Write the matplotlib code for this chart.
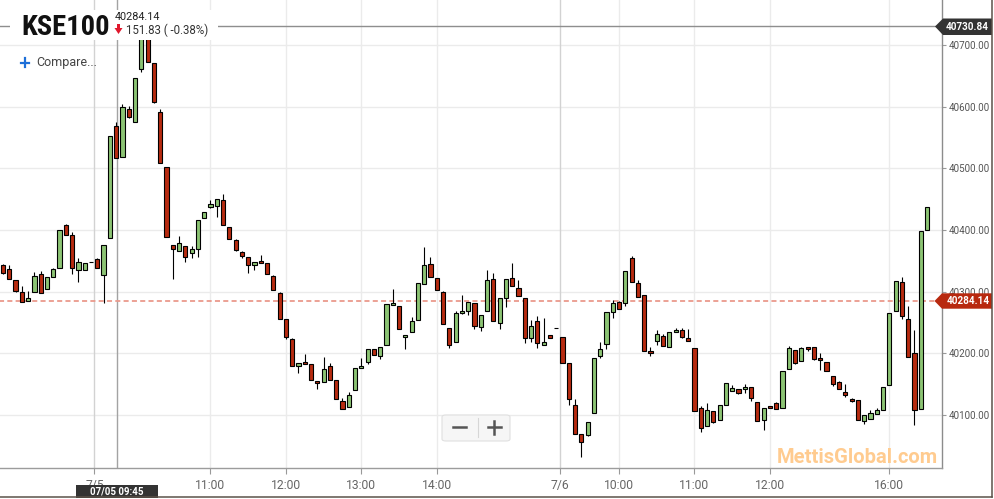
import numpy as np
import pandas as pd
import matplotlib
matplotlib.use("Agg")
import matplotlib.pyplot as plt
from matplotlib import font_manager as fm
from matplotlib.patches import Rectangle, Polygon, FancyBboxPatch
from matplotlib.lines import Line2D

# ------------------------------------------------------------------ data
title = "KSE100"
last_price = 40284.14
change_abs = 151.83
change_pct = -0.38
cursor_price = 40730.84
cursor_time = "2018-07-05 09:45"
watermark = "MettisGlobal.com"

# trading sessions (start, number of 5-minute bars)
sessions = [("2018-07-04 14:20", 15), ("2018-07-05 09:30", 74),
            ("2018-07-06 09:15", 34), ("2018-07-06 14:30", 25)]

opens = [40342.8, 40336.3, 40318.5, 40299.0, 40284.4, 40299.0, 40329.2, 40303.9, 40323.3, 40337.9,
         40407.7, 40391.4, 40334.7, 40334.7, 40348.1, 40352.5, 40326.6, 40386.6, 40568.7, 40517.9,
         40595.8, 40574.7, 40660.6, 40712.0, 40670.4, 40590.9, 40502.7, 40376.2, 40365.5, 40374.6,
         40362.3, 40368.7, 40419.0, 40436.8, 40438.5, 40448.2, 40405.4, 40383.3, 40363.9, 40355.8,
         40342.8, 40349.8, 40346.0, 40325.0, 40297.9, 40255.2, 40222.8, 40179.0, 40186.0, 40182.3,
         40155.2, 40153.1, 40179.0, 40156.3, 40122.3, 40112.5, 40140.1, 40175.8, 40185.5, 40206.6,
         40195.2, 40213.1, 40277.9, 40276.3, 40226.0, 40234.1, 40253.6, 40312.0, 40344.4, 40321.7,
         40299.0, 40240.6, 40217.9, 40264.9, 40268.2, 40281.2, 40242.3, 40268.2, 40320.1, 40248.7,
         40289.3, 40321.7, 40305.5, 40289.3, 40224.4, 40252.0, 40213.1, 40229.3, 40240.6, 40226.0,
         40183.9, 40115.8, 40068.7, 40067.1, 40102.8, 40195.2, 40214.7, 40266.6, 40282.8, 40281.2,
         40354.1, 40313.6, 40294.1, 40203.3, 40219.6, 40227.7, 40209.8, 40234.1, 40237.4, 40224.4,
         40208.2, 40110.9, 40081.7, 40106.0, 40091.5, 40115.8, 40138.5, 40141.7, 40141.7, 40144.9,
         40120.6, 40091.5, 40114.1, 40119.0, 40110.9, 40174.1, 40205.0, 40187.1, 40209.8, 40209.8,
         40192.0, 40185.5, 40162.8, 40153.1, 40136.8, 40125.5, 40123.9, 40089.8, 40093.1, 40101.2,
         40107.7, 40148.2, 40268.2, 40315.2, 40255.2, 40200.1, 40109.3, 40399.5]
highs = [40344.9, 40343.3, 40318.5, 40309.2, 40301.1, 40331.9, 40333.5, 40323.3, 40337.9, 40399.5,
         40409.8, 40396.3, 40354.1, 40346.0, 40348.1, 40354.1, 40375.2, 40552.0, 40575.7, 40604.4,
         40601.1, 40646.0, 40722.0, 40718.0, 40670.4, 40595.8, 40502.7, 40376.2, 40389.8, 40374.6,
         40373.6, 40415.8, 40429.7, 40448.7, 40449.8, 40458.4, 40405.4, 40385.0, 40366.5, 40355.8,
         40347.7, 40359.5, 40346.0, 40326.6, 40299.5, 40255.2, 40224.4, 40184.4, 40199.4, 40182.3,
         40155.2, 40194.1, 40184.4, 40156.3, 40127.1, 40136.8, 40175.8, 40192.0, 40206.6, 40206.6,
         40209.8, 40279.5, 40303.9, 40276.3, 40229.3, 40258.5, 40313.6, 40372.5, 40355.8, 40321.7,
         40300.6, 40240.6, 40268.2, 40294.1, 40282.8, 40281.2, 40261.7, 40334.7, 40329.8, 40289.3,
         40320.1, 40346.0, 40318.5, 40289.3, 40253.6, 40260.1, 40256.8, 40229.3, 40240.6, 40226.0,
         40183.9, 40125.5, 40068.7, 40088.2, 40192.0, 40217.9, 40266.6, 40286.0, 40284.4, 40333.1,
         40357.4, 40318.5, 40294.1, 40209.8, 40237.4, 40230.9, 40234.1, 40240.6, 40240.6, 40239.0,
         40208.2, 40114.1, 40119.0, 40106.0, 40115.8, 40151.4, 40148.2, 40141.7, 40149.8, 40144.9,
         40120.6, 40110.9, 40114.1, 40120.6, 40170.9, 40211.4, 40205.0, 40209.8, 40209.8, 40209.8,
         40200.1, 40185.5, 40162.8, 40154.7, 40149.8, 40127.1, 40123.9, 40099.5, 40107.7, 40110.9,
         40144.9, 40264.9, 40316.8, 40323.3, 40276.3, 40237.4, 40397.9, 40436.8]
lows = [40328.7, 40320.1, 40299.0, 40282.8, 40284.4, 40299.0, 40297.4, 40303.9, 40323.3, 40337.9,
        40391.4, 40328.2, 40315.2, 40334.7, 40348.1, 40337.9, 40282.1, 40386.6, 40516.3, 40517.9,
        40582.1, 40574.7, 40655.8, 40672.0, 40605.5, 40508.2, 40388.2, 40320.1, 40365.5, 40348.6,
        40355.1, 40356.7, 40419.0, 40435.2, 40421.6, 40407.7, 40385.0, 40366.0, 40354.6, 40330.8,
        40335.2, 40346.0, 40328.2, 40302.3, 40255.2, 40223.8, 40179.0, 40168.6, 40182.3, 40156.3,
        40142.7, 40153.1, 40156.3, 40125.5, 40109.3, 40112.5, 40140.1, 40175.8, 40182.3, 40196.8,
        40190.4, 40213.1, 40277.9, 40239.0, 40206.6, 40234.1, 40253.6, 40312.0, 40323.3, 40302.3,
        40247.1, 40208.2, 40217.9, 40263.3, 40261.7, 40239.0, 40235.8, 40268.2, 40252.0, 40239.0,
        40274.7, 40308.7, 40292.5, 40216.3, 40217.9, 40208.2, 40213.1, 40224.4, 40240.6, 40183.9,
        40115.8, 40068.7, 40032.4, 40065.5, 40102.8, 40192.0, 40206.6, 40256.8, 40271.4, 40276.3,
        40315.2, 40290.9, 40203.3, 40195.2, 40213.1, 40211.4, 40209.8, 40234.1, 40224.4, 40219.6,
        40106.0, 40072.0, 40081.7, 40086.6, 40091.5, 40115.8, 40138.5, 40133.6, 40135.2, 40122.3,
        40089.8, 40075.2, 40110.9, 40109.3, 40110.9, 40174.1, 40182.3, 40187.1, 40203.3, 40188.8,
        40172.5, 40170.9, 40146.6, 40141.7, 40129.7, 40120.6, 40091.5, 40085.0, 40093.1, 40101.2,
        40107.7, 40148.2, 40268.2, 40255.2, 40193.6, 40083.3, 40109.3, 40399.5]
closes = [40330.8, 40320.1, 40301.1, 40282.8, 40289.3, 40325.9, 40297.4, 40323.3, 40336.3, 40399.5,
          40391.4, 40337.9, 40347.7, 40346.0, 40348.1, 40337.9, 40375.2, 40552.0, 40516.3, 40599.0,
          40583.8, 40646.0, 40715.0, 40672.0, 40608.1, 40508.2, 40388.2, 40368.7, 40378.5, 40355.8,
          40368.7, 40415.8, 40429.7, 40441.7, 40449.8, 40407.7, 40385.0, 40368.1, 40357.9, 40342.8,
          40347.7, 40346.0, 40328.2, 40302.3, 40255.2, 40226.0, 40179.0, 40184.4, 40182.3, 40156.3,
          40151.4, 40174.1, 40156.3, 40125.5, 40109.3, 40132.0, 40175.8, 40179.0, 40206.6, 40196.8,
          40209.8, 40279.5, 40281.2, 40239.0, 40229.3, 40252.0, 40313.6, 40342.8, 40323.3, 40302.3,
          40247.1, 40213.1, 40264.9, 40268.2, 40282.8, 40243.9, 40261.7, 40318.5, 40252.0, 40289.3,
          40320.1, 40308.7, 40292.5, 40224.4, 40243.9, 40216.3, 40217.9, 40224.4, 40240.6, 40183.9,
          40125.5, 40068.7, 40055.8, 40088.2, 40192.0, 40206.6, 40266.6, 40281.2, 40271.4, 40333.1,
          40315.2, 40290.9, 40203.3, 40200.1, 40230.9, 40211.4, 40234.1, 40237.4, 40226.0, 40219.6,
          40106.0, 40078.5, 40107.7, 40088.2, 40115.8, 40151.4, 40143.3, 40135.2, 40144.9, 40127.1,
          40089.8, 40110.9, 40110.9, 40109.3, 40170.9, 40208.2, 40183.9, 40208.2, 40206.6, 40190.4,
          40188.8, 40170.9, 40149.8, 40141.7, 40132.0, 40122.3, 40091.5, 40099.5, 40102.8, 40107.7,
          40144.9, 40264.9, 40316.8, 40260.1, 40193.6, 40107.7, 40397.9, 40436.8]
y_ticks = [40100, 40200, 40300, 40400, 40500, 40600, 40700]

# ------------------------------------------------------------------ helpers
names = {f.name for f in fm.fontManager.ttflist}
NARROW = next((n for n in ["Liberation Sans Narrow", "Roboto Condensed", "Arial Narrow"] if n in names), "Roboto")
plt.rcParams["font.family"] = ["Roboto", "DejaVu Sans"]

W, H = 994, 499
fig = plt.figure(figsize=(W / 100, H / 100), dpi=100)
fig.patch.set_facecolor("white")


def fx(x):
    return x / W


def fy(y):
    return 1 - y / H


def ftext(x, y, s, **kw):
    kw.setdefault("zorder", 6)
    return fig.text(fx(x), fy(y), s, **kw)


def fpoly(pts, **kw):
    p = Polygon([(fx(a), fy(b)) for a, b in pts], closed=True,
                transform=fig.transFigure, **kw)
    fig.add_artist(p)
    return p


def fline(xs, ys, **kw):
    ln = Line2D([fx(a) for a in xs], [fy(b) for b in ys], transform=fig.transFigure, **kw)
    fig.add_artist(ln)
    return ln


# time index (bars are placed by position, non-trading time is compressed)
times = pd.DatetimeIndex(np.concatenate(
    [pd.date_range(s, periods=k, freq="5min").values for s, k in sessions]))
n = len(times)
o = np.array(opens); h = np.array(highs); l = np.array(lows); c = np.array(closes)
assert n == len(o) == len(h) == len(l) == len(c)
x = np.arange(n)

# axis ticks: day boundaries first, then whole hours that are not too crowded
day_pos, day_lab = [], []
for i in range(1, n):
    if times[i].date() != times[i - 1].date():
        day_pos.append(i - 0.45)
        day_lab.append(f"{times[i].month}/{times[i].day}")
kept = list(day_pos)
hour_pos, hour_lab = [], []
for i in range(n):
    if times[i].minute == 0 and all(abs(i - k) >= 9 for k in kept):
        kept.append(i)
        hour_pos.append(i)
        hour_lab.append(times[i].strftime("%H:%M"))
tick_pos = day_pos + hour_pos
tick_lab = day_lab + hour_lab
order = np.argsort(tick_pos)
tick_pos = [tick_pos[k] for k in order]
tick_lab = [tick_lab[k] for k in order]

cursor_idx = int(np.where(times == pd.Timestamp(cursor_time))[0][0])

# ------------------------------------------------------------------ main axes
ax = fig.add_axes([0, fy(468), fx(942), 468 / H])
ax.set_facecolor("white")
ax.set_xlim(-0.477, 149.38)
ax.set_ylim(40014.1, 40773.0)

for v in y_ticks:
    ax.axhline(v, color="#ebebeb", lw=1.0, zorder=0)
for p in tick_pos:
    col = "#d2d2d2" if p in day_pos else "#ebebeb"
    ax.axvline(p, color=col, lw=1.0, zorder=0)

# crosshair
ax.axvline(cursor_idx + 0.2, color="#a3a3a3", lw=1.0, zorder=1)
ax.axhline(cursor_price, color="#8e8e8e", lw=1.0, zorder=1)

# last price dashed line
ax.plot([x[0] - 1, 148.2], [last_price, last_price], color="#ea9a8c", lw=1.3,
        ls=(0, (2.8, 1.8)), zorder=2, solid_capstyle="butt")

# candles
up = c >= o
colors = np.where(up, "#8cc474", "#b72b10")
ax.vlines(x, l, h, color="black", lw=0.8, zorder=3)
ax.bar(x, np.abs(c - o), bottom=np.minimum(o, c), width=0.66, color=colors,
       edgecolor="black", linewidth=0.8, zorder=4)

# spines / ticks
for s in ("top", "left"):
    ax.spines[s].set_visible(False)
ax.spines["bottom"].set_color("#9c9c9c")
ax.spines["right"].set_color("#8c8c8c")
ax.spines["bottom"].set_linewidth(1.0)
ax.spines["right"].set_linewidth(1.0)

ax.yaxis.tick_right()
ax.set_yticks(y_ticks)
ax.set_yticklabels([f"{v:.2f}" for v in y_ticks])
ax.tick_params(axis="y", length=3, width=0.8, color="#999999", pad=2,
               labelsize=7.1, labelcolor="#555555")
ax.set_xticks(tick_pos)
ax.set_xticklabels(tick_lab)
ax.tick_params(axis="x", length=4, width=0.8, color="#999999", pad=4,
               labelsize=8.7, labelcolor="#666666")

# ------------------------------------------------------------------ overlays
# header box
fig.add_artist(Rectangle((fx(10), fy(40)), fx(208), 30 / H, transform=fig.transFigure,
                         facecolor="white", edgecolor="none", zorder=5))
ftext(21, 35, title, ha="left", va="baseline", fontsize=20.5, fontweight="bold",
      family=[NARROW, "DejaVu Sans"], color="#111111")
ftext(115, 20, f"{last_price:.2f}", ha="left", va="baseline", fontsize=7.8, color="#222222")
fpoly([(117, 24), (120, 24), (120, 28), (122.5, 28), (118.5, 34), (114.5, 28), (117, 28)],
      facecolor="#e0182d", edgecolor="none", zorder=6)
ftext(126, 34, f"{change_abs:.2f} ( {change_pct:.2f}%)", ha="left", va="baseline",
      fontsize=8.3, color="#333333")

# compare
fline([20.7, 29.3], [62.5, 62.5], color="#1d6fd8", lw=1.6, zorder=6)
fline([25, 25], [58.2, 66.8], color="#1d6fd8", lw=1.6, zorder=6)
ftext(36, 62.5, "Compare...", ha="left", va="center", fontsize=9, color="#444444")

# zoom buttons
fig.add_artist(FancyBboxPatch((fx(442), fy(441)), 68 / W, 26 / H,
                              boxstyle="round,pad=0,rounding_size=0.004",
                              transform=fig.transFigure, facecolor="#f6f6f6",
                              edgecolor="#e0e0e0", lw=0.8, zorder=5))
fline([452.5, 465.5], [427, 427], color="#555555", lw=1.8, zorder=6)
fline([487.5, 500.5], [427, 427], color="#555555", lw=1.8, zorder=6)
fline([494, 494], [420.5, 433.5], color="#555555", lw=1.8, zorder=6)
fline([477.5, 477.5], [418, 437], color="#d6d6d6", lw=0.8, zorder=6)

# watermark
ftext(777, 463, watermark, ha="left", va="baseline", fontsize=14.5, fontweight="bold",
      color="#ffcb8f", zorder=2)

# cursor time label
fig.add_artist(Rectangle((fx(76), fy(497.5)), 82 / W, 12.5 / H, transform=fig.transFigure,
                         facecolor="#333333", edgecolor="none", zorder=5))
ftext(117, 491.5, times[cursor_idx].strftime("%m/%d %H:%M"), ha="center", va="center",
      fontsize=7, fontweight="bold", color="white")

# cursor price label
fpoly([(935, 26.5), (943, 18.5), (992, 18.5), (992, 35), (943, 35)],
      facecolor="#333333", edgecolor="none", zorder=5)
ftext(967.5, 27, f"{cursor_price:.2f}", ha="center", va="center", fontsize=7.1,
      fontweight="bold", color="white")

# last price label
fpoly([(934.5, 301), (942, 293.3), (992, 293.3), (992, 308.7), (942, 308.7)],
      facecolor="#b8290f", edgecolor="none", zorder=5)
ftext(968, 301.3, f"{last_price:.2f}", ha="center", va="center", fontsize=7.1,
      fontweight="bold", color="white")

# outer frame
fline([0, 992], [497.3, 497.3], color="#5b5249", lw=1.1, zorder=7)
fline([992, 992], [0, 497.3], color="#5b5249", lw=1.1, zorder=7)

fig.savefig("out.png", dpi=100, facecolor="white")
